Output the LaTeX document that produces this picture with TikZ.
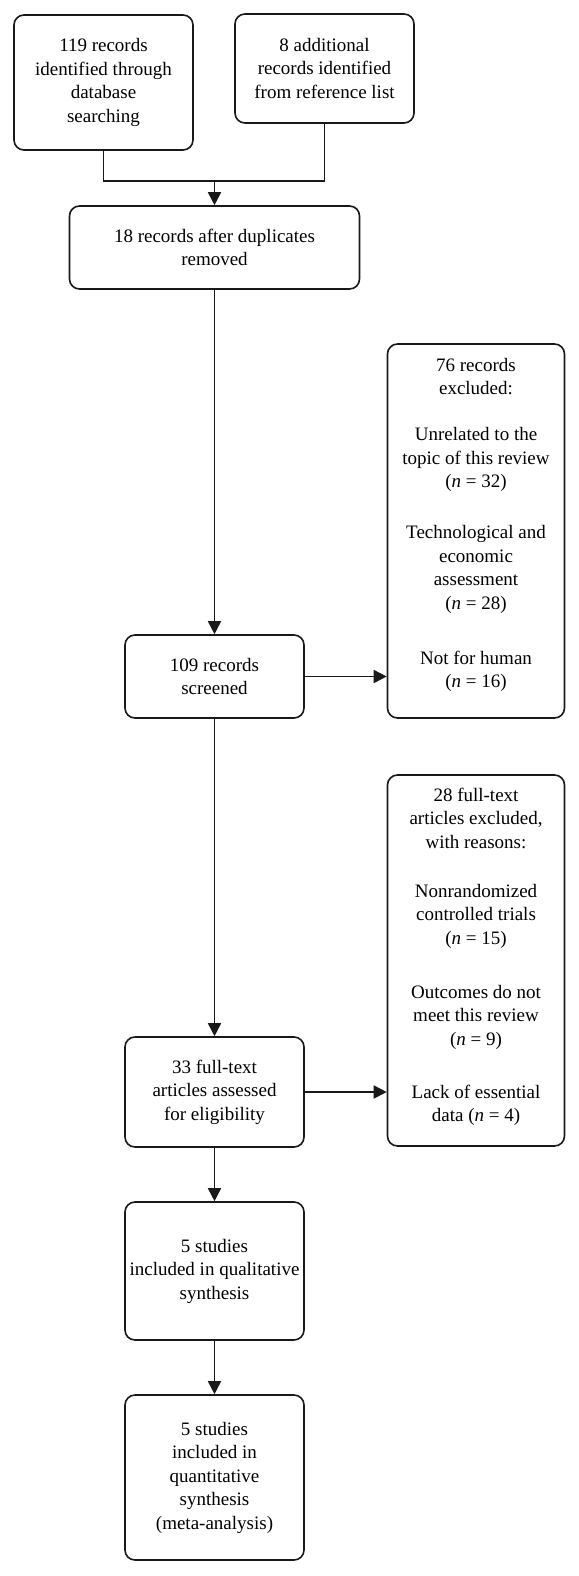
\documentclass[tikz,border=0pt]{standalone}
\usepackage{fontspec}
\setmainfont{Liberation Serif}
\usetikzlibrary{arrows.meta,calc}
\begin{document}
\begin{tikzpicture}[x=1bp,y=-1bp,
  box/.style={draw=black!90, line width=1.6bp, rounded corners=10bp, align=center,
    inner sep=2bp, font=\fontsize{19bp}{23.5bp}\selectfont},
  txt/.style={align=center, inner sep=0pt, font=\fontsize{19bp}{23.5bp}\selectfont},
  link/.style={draw=black!90, line width=1.6bp},
  arr/.style={link, -{Triangle[length=13bp,width=13bp]}}]
\useasboundingbox (0,0) rectangle (579,1576);
\fill[white] (0,0) rectangle (579,1576);
% boxes
\node[box, minimum width=179bp, minimum height=135bp] (a) at (103.5,82.5)
  {119 records\\identified through\\database\\searching};
\node[box, minimum width=179bp, minimum height=109bp] (b) at (324.5,68.5)
  {8 additional\\records identified\\from reference list};
\node[box, minimum width=290bp, minimum height=83bp] (c) at (214.5,247.5)
  {18 records after duplicates\\removed};
\node[box, minimum width=179bp, minimum height=83bp] (d) at (214.5,676.5)
  {109 records\\screened};
\node[box, minimum width=177bp, minimum height=374bp] (e) at (476,531) {};
\node[txt] (etext) at (476,525)
  {76 records\\excluded:\\[22.5bp]
   Unrelated to the\\topic of this review\\(\textit{n} = 32)\\[27.5bp]
   Technological and\\economic\\assessment\\(\textit{n} = 28)\\[31.5bp]
   Not for human\\(\textit{n} = 16)};
\node[box, minimum width=179bp, minimum height=110bp] (g) at (214.5,1092)
  {33 full-text\\articles assessed\\for eligibility};
\node[box, minimum width=177bp, minimum height=371bp] (f) at (476,960.5) {};
\node[txt] (ftext) at (476,957)
  {28 full-text\\articles excluded,\\with reasons:\\[25.5bp]
   Nonrandomized\\controlled trials\\(\textit{n} = 15)\\[30.5bp]
   Outcomes do not\\meet this review\\(\textit{n} = 9)\\[29.5bp]
   Lack of essential\\data (\textit{n} = 4)};
\node[box, minimum width=179bp, minimum height=138bp] (h) at (214.5,1271)
  {5 studies\\included in qualitative\\synthesis};
\node[box, minimum width=179bp, minimum height=165bp] (i) at (214.5,1477.5)
  {5 studies\\included in\\quantitative\\synthesis\\(meta-analysis)};
% connectors
\coordinate (m) at (214.5,181);
\draw[link] (a.south) |- (m) -| (b.south);
\draw[arr] (m) -- (c.north);
\draw[arr] (c.south) -- (d.north);
\draw[arr] (d.east) -- (d.east -| e.west);
\draw[arr] (d.south) -- (g.north);
\draw[arr] (g.east) -- (g.east -| f.west);
\draw[arr] (g.south) -- (h.north);
\draw[arr] (h.south) -- (i.north);
\end{tikzpicture}
\end{document}
